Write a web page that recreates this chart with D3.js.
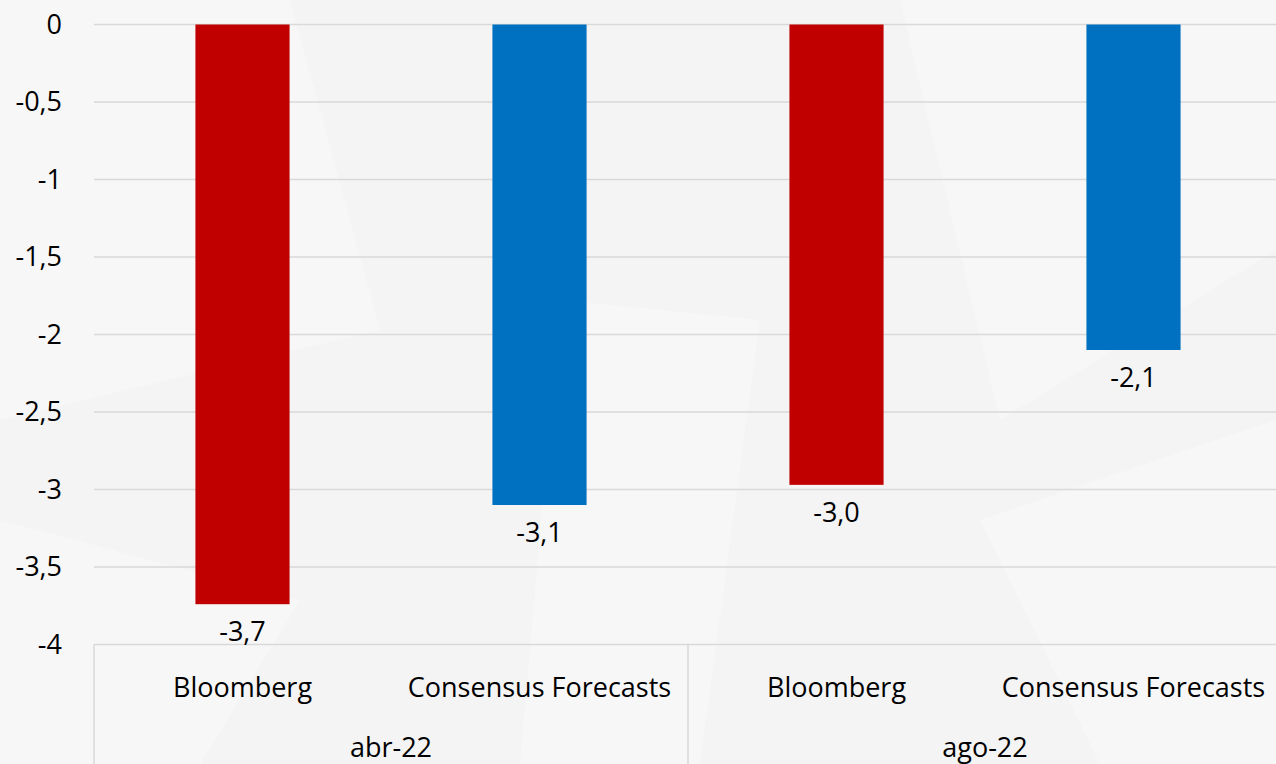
<!DOCTYPE html>
<html>
<head>
<meta charset="utf-8">
<script src="https://cdn.jsdelivr.net/npm/d3@7"></script>
<style>
  html, body { margin: 0; padding: 0; background: #f4f4f4; }
  svg { display: block; }
</style>
</head>
<body>
<svg width="1276" height="764"></svg>
<script>
var groupNames  = ["abr-22", "ago-22"];
var sourceNames = ["Bloomberg", "Consensus Forecasts"];
var bloombergVals = [-3.74, -2.97];
var consensusVals = [-3.1, -2.1];
var yTicks = [0, -0.5, -1, -1.5, -2, -2.5, -3, -3.5, -4];
var colors = ["#c00000", "#0070c0"];

var svg = d3.select("svg");
var width = +svg.attr("width"), height = +svg.attr("height");
var font = "'Open Sans', sans-serif";
var fsize = 27;

var locale = d3.formatLocale({ decimal: ",", thousands: ".", grouping: [3], currency: ["", ""], minus: "-" });
var fmtLabel = locale.format(".1f");
var fmtTick = function (d) { return String(d).replace(".", ","); };

// background with faint facets
svg.append("rect").attr("width", width).attr("height", height).attr("fill", "#f4f4f4");
var facets = [
  [[0, 0], [290, 0], [380, 330], [0, 420]],
  [[560, 300], [760, 320], [700, 764], [520, 764]],
  [[900, 0], [1276, 0], [1276, 250], [1000, 420]],
  [[0, 520], [300, 600], [200, 764], [0, 764]],
  [[980, 520], [1276, 420], [1276, 764], [1100, 764]]
];
svg.append("g").selectAll("polygon").data(facets).join("polygon")
  .attr("points", function (p) { return p.join(" "); })
  .attr("fill", "#f7f7f7");

var y = d3.scaleLinear().domain([0, -4]).range([24.5, 644.5]);
var x0 = d3.scaleBand().domain(groupNames).range([94, 1282]);
var x1 = d3.scaleBand().domain(sourceNames).range([0, x0.bandwidth()])
  .paddingInner(0.683).paddingOuter(0.3415);

// gridlines
svg.append("g").selectAll("line").data(yTicks.filter(function (d) { return d !== -4; })).join("line")
  .attr("x1", 94).attr("x2", width)
  .attr("y1", function (d) { return y(d); }).attr("y2", function (d) { return y(d); })
  .attr("stroke", "#d9d9d9").attr("stroke-width", 1.5);

// y tick labels
svg.append("g").selectAll("text").data(yTicks).join("text")
  .attr("x", 62).attr("y", function (d) { return y(d); })
  .attr("dy", "0.35em").attr("text-anchor", "end")
  .attr("font-family", font).attr("font-size", fsize).attr("fill", "#000")
  .text(fmtTick);

// category axis lines
var axisG = svg.append("g").attr("stroke", "#d9d9d9").attr("stroke-width", 1.5);
axisG.append("line").attr("x1", 94).attr("x2", width).attr("y1", y(-4)).attr("y2", y(-4));
groupNames.forEach(function (g) {
  axisG.append("line").attr("x1", x0(g)).attr("x2", x0(g)).attr("y1", y(-4)).attr("y2", height);
});

// bars
var rows = [];
groupNames.forEach(function (g, i) {
  rows.push({ group: g, source: sourceNames[0], value: bloombergVals[i], color: colors[0] });
  rows.push({ group: g, source: sourceNames[1], value: consensusVals[i], color: colors[1] });
});

var barG = svg.append("g");
barG.selectAll("rect").data(rows).join("rect")
  .attr("x", function (d) { return x0(d.group) + x1(d.source); })
  .attr("width", x1.bandwidth())
  .attr("y", y(0))
  .attr("height", function (d) { return y(d.value) - y(0); })
  .attr("fill", function (d) { return d.color; });

// data labels
barG.selectAll("text").data(rows).join("text")
  .attr("x", function (d) { return x0(d.group) + x1(d.source) + x1.bandwidth() / 2; })
  .attr("y", function (d) { return y(d.value) + 37; })
  .attr("text-anchor", "middle")
  .attr("font-family", font).attr("font-size", fsize).attr("fill", "#000")
  .text(function (d) { return fmtLabel(d.value); });

// source labels
svg.append("g").selectAll("text").data(rows).join("text")
  .attr("x", function (d) { return x0(d.group) + x1(d.source) + x1.bandwidth() / 2; })
  .attr("y", 697)
  .attr("text-anchor", "middle")
  .attr("font-family", font).attr("font-size", fsize).attr("fill", "#000")
  .text(function (d) { return d.source; });

// group labels
svg.append("g").selectAll("text").data(groupNames).join("text")
  .attr("x", function (g) { return x0(g) + x0.bandwidth() / 2; })
  .attr("y", 757)
  .attr("text-anchor", "middle")
  .attr("font-family", font).attr("font-size", fsize).attr("fill", "#000")
  .text(function (g) { return g; });
</script>
</body>
</html>
